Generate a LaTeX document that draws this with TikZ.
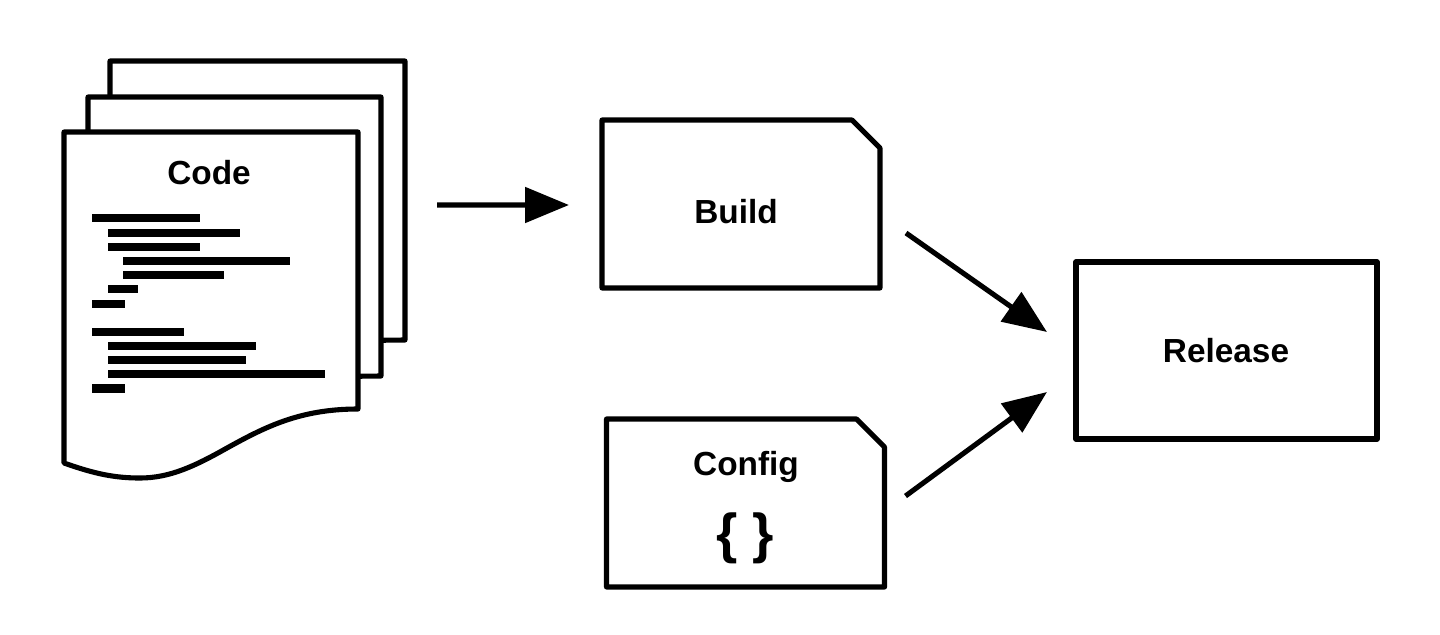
\documentclass[tikz,border=0pt]{standalone}
\usepackage{fontspec}
\setmainfont{Liberation Sans}
\usetikzlibrary{arrows.meta}
\tikzset{
  outline/.style={line width=1.45pt,line join=round,fill=white},
  stepbox/.style={inner sep=0pt,outer sep=0pt,minimum width=2.78cm,minimum height=1.68cm},
  caption/.style={font=\fontsize{9.5pt}{11pt}\selectfont\bfseries,inner sep=0pt},
  flow/.style={line width=1.45pt,-{Triangle[length=.44cm,width=.35cm]}},
  codeline/.style={line width=2.3pt}
}
\begin{document}
\begin{tikzpicture}[x=1cm,y=1cm]
  \useasboundingbox (0,0) rectangle (14.4,6.34);
  % pages
  \draw[outline] (1.10,5.73) -- (4.05,5.73) -- (4.05,2.94) -- (1.10,2.91) -- cycle;
  \draw[outline] (0.88,5.37) -- (3.81,5.37) -- (3.81,2.58) -- (0.88,2.55) -- cycle;
  \draw[outline] (0.64,5.02) -- (3.58,5.02) -- (3.58,2.25)
    .. controls (3.0,2.25) and (2.65,2.07) .. (2.27,1.86)
    .. controls (1.95,1.68) and (1.70,1.56) .. (1.40,1.56)
    .. controls (1.15,1.56) and (0.95,1.60) .. (0.64,1.71) -- cycle;
  \node[caption] (code) at (2.09,4.61) {Code};
  % listing
  \foreach \xa/\xb/\ya in {0.92/2.00/4.16,1.08/2.40/4.013,1.08/2.00/3.87,1.23/2.90/3.73,1.23/2.24/3.59,
    1.08/1.38/3.45,0.92/1.25/3.30,0.92/1.84/3.02,1.08/2.56/2.88,1.08/2.46/2.74,1.08/3.25/2.60,0.92/1.25/2.455}
    \draw[codeline] (\xa,\ya) -- (\xb,\ya);
  % boxes
  \node[stepbox] (build) at (7.41,4.30) {};
  \node[stepbox] (config) at (7.455,1.31) {};
  \foreach \name in {build,config}
    \draw[outline] (\name.south west) -- (\name.south east) -- ([yshift=-.28cm]\name.north east)
      -- ([xshift=-.28cm]\name.north east) -- (\name.north west) -- cycle;
  \node[caption] (buildlabel) at (7.36,4.22) {Build};
  \node[caption] (configlabel) at (7.46,1.67) {Config};
  \node[font=\fontsize{15.6pt}{17pt}\selectfont\bfseries,inner sep=0pt] (braces) at (7.45,0.96) {\{ \}};
  \node[stepbox,draw,outline,minimum width=3.01cm,minimum height=1.77cm] (release) at (12.265,2.835) {};
  \node[caption] (releaselabel) at (12.26,2.83) {Release};
  % connectors
  \draw[flow] ([shift={(2.28,-.32)}]code.center) -- ([shift={(-.33,-.01)}]build.west);
  \draw[flow] ([shift={(.26,-.29)}]build.east) -- ([shift={(-.29,.185)}]release.west);
  \draw[flow] ([shift={(.21,.07)}]config.east) -- ([shift={(-.29,-.415)}]release.west);
\end{tikzpicture}
\end{document}
